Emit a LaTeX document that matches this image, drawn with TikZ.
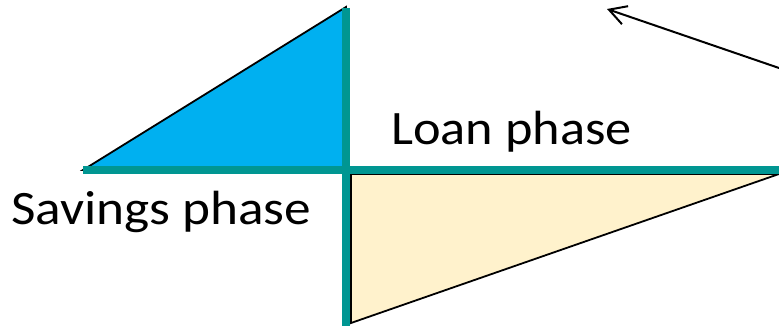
\documentclass[tikz,border=0pt]{standalone}
\usepackage{fontspec}
\setmainfont{Carlito}
\usetikzlibrary{arrows.meta}
\definecolor{tealline}{RGB}{0,150,146}
\definecolor{bluefill}{RGB}{0,176,240}
\definecolor{yellowfill}{RGB}{255,242,204}
\tikzset{
  axisline/.style={draw=tealline, line width=8pt},
  tri/.style={draw=black, line width=1.8pt, line join=miter},
  lbl/.style={inner sep=0pt, anchor=base west, font=\fontsize{48}{50}\selectfont},
  pointer/.style={draw=black, line width=2pt, -{Straight Barb[length=17pt,width=19pt,line width=2pt]}}
}
\newcommand{\widetext}[2]{\scalebox{#1}[1]{#2}}
\begin{document}
\begin{tikzpicture}[x=1pt,y=1pt]
\useasboundingbox (0,0) rectangle (779,326);
% key points (px -> y = 326 - ypx)
\coordinate (bL) at (83,156);
\coordinate (bR) at (346,156);
\coordinate (bT) at (346,319);
\coordinate (yL) at (351,152);
\coordinate (yR) at (779,152);
\coordinate (yB) at (351,3);
\coordinate (vTop) at (346,318);
\coordinate (vBot) at (346,0);
\coordinate (hL) at (83,155.5);
\coordinate (hR) at (779,155.5);
\coordinate (aStart) at (779,258);
\coordinate (aTip) at (607,317);
% triangles
\path[tri, fill=bluefill] (bL) -- (bR) -- (bT) -- cycle;
\path[tri, fill=yellowfill] (yL) -- (yR) -- (yB) -- cycle;
% axes
\draw[axisline] (vTop) -- (vBot);
\draw[axisline] (hL) -- (hR);
% labels
\node[lbl] (loan) at (391,181) {\widetext{1.09}{Loan phase}};
\node[lbl] (sav) at (11,101) {\widetext{1.11}{Savings phase}};
% arrow
\draw[pointer] (aStart) -- (aTip);
\end{tikzpicture}
\end{document}
